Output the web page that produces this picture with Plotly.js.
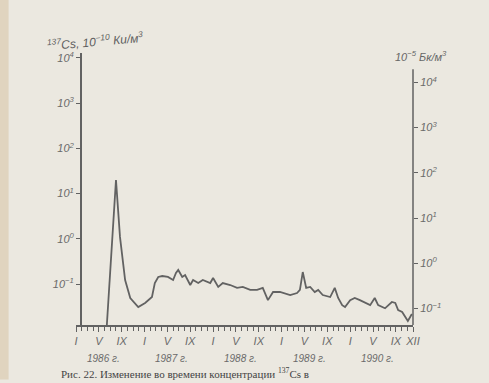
<!DOCTYPE html>
<html>
<head>
<meta charset="utf-8">
<script src="https://cdn.plot.ly/plotly-3.0.1.min.js"></script>
<style>
html,body{margin:0;padding:0;background:#ebe8e0;}
#chart{width:489px;height:383px;}
</style>
</head>
<body>
<div id="chart"></div>
<script>
// Month index from January 1986 (0) to December 1990 (59)
const months = [5.4, 7.0, 7.7, 8.6, 9.5, 10.9, 12.1, 13.3, 13.8, 14.4, 15.1, 16.1, 17.0, 17.5, 17.9, 18.6, 19.1, 20.0, 20.5, 21.4, 22.2, 23.5, 24.0, 24.9, 25.7, 27.0, 28.2, 29.2, 30.5, 31.7, 32.7, 33.6, 34.5, 35.7, 37.5, 38.7, 39.2, 39.7, 40.3, 41.0, 41.8, 42.4, 43.2, 44.5, 45.3, 45.9, 46.6, 47.1, 48.0, 48.8, 49.7, 50.6, 51.5, 52.3, 52.9, 54.1, 55.3, 55.9, 56.4, 57.1, 57.6, 58.1, 58.8];
// 137Cs concentration, 10^-10 Ci/m3
const cs137 = [0.0124, 20, 1.10, 0.1225, 0.049, 0.031, 0.038, 0.0515, 0.105, 0.143, 0.150, 0.143, 0.1225, 0.175, 0.204, 0.143, 0.158, 0.095, 0.1225, 0.105, 0.1225, 0.105, 0.136, 0.086, 0.105, 0.095, 0.082, 0.086, 0.074, 0.074, 0.082, 0.044, 0.0665, 0.0665, 0.057, 0.063, 0.074, 0.184, 0.082, 0.086, 0.0665, 0.074, 0.057, 0.0515, 0.082, 0.049, 0.034, 0.031, 0.044, 0.049, 0.044, 0.038, 0.034, 0.049, 0.034, 0.029, 0.040, 0.038, 0.0266, 0.024, 0.0186, 0.0152, 0.0217];

const monthTickVals = [0, 4, 8, 12, 16, 20, 24, 28, 32, 36, 40, 44, 48, 52, 56, 59];
const monthTickText = ['I','V','IX','I','V','IX','I','V','IX','I','V','IX','I','V','IX','XII'];
const yearLabels = ['1986 г.', '1987 г.', '1988 г.', '1989 г.', '1990 г.'];
const yearPos = [4.8, 16.8, 28.8, 40.8, 52.8];

const leftTickVals = [0.1, 1, 10, 100, 1000, 10000];
const leftTickText = ['10<sup>−1</sup>', '10<sup>0</sup>', '10<sup>1</sup>', '10<sup>2</sup>', '10<sup>3</sup>', '10<sup>4</sup>'];
const rightTickVals = [0.1, 1, 10, 100, 1000, 10000];
const rightTickText = ['10<sup>−1</sup>', '10<sup>0</sup>', '10<sup>1</sup>', '10<sup>2</sup>', '10<sup>3</sup>', '10<sup>4</sup>'];

const ink = '#626262';
const txt = '#6a6a6a';
const fam = 'Liberation Sans, Arial, sans-serif';
const tfont = {family: fam, size: 11, color: txt, style: 'italic'};

const traces = [
  {x: months, y: cs137, type: 'scatter', mode: 'lines',
   line: {color: ink, width: 1.8}, hoverinfo: 'skip', cliponaxis: true},
  // empty trace so the right-hand (Bq) axis is drawn
  {x: [], y: [], type: 'scatter', mode: 'lines', yaxis: 'y2', hoverinfo: 'skip', showlegend: false}
];

const annotations = yearLabels.map((t, i) => ({
  text: t, x: yearPos[i], xref: 'x', y: -0.095, yref: 'paper',
  yanchor: 'top', xanchor: 'center', showarrow: false,
  font: {family: fam, size: 10, color: txt, style: 'italic'}
}));
annotations.push({
  text: '<sup>137</sup>Cs, 10<sup>−10</sup> Ки/м<sup>3</sup>',
  xref: 'paper', yref: 'paper', x: -0.095, y: 0.99, xanchor: 'left', yanchor: 'bottom',
  showarrow: false, textangle: -5,
  font: {family: fam, size: 12, color: '#5e5e5e', style: 'italic'}
});
annotations.push({
  text: '10<sup>−5</sup> Бк/м<sup>3</sup>',
  xref: 'paper', yref: 'paper', x: 0.94, y: 0.955, xanchor: 'left', yanchor: 'bottom',
  showarrow: false,
  font: {family: fam, size: 11, color: '#666666', style: 'italic'}
});
annotations.push({
  text: 'Рис. 22. Изменение во времени концентрации <sup>137</sup>Cs в',
  xref: 'paper', yref: 'paper', x: -0.05, y: -0.208, xanchor: 'left', yanchor: 'bottom',
  showarrow: false,
  font: {family: 'Liberation Serif, serif', size: 11, color: '#444444'}
});

const layout = {
  width: 489, height: 383,
  margin: {l: 76, r: 76, t: 53, b: 58},
  paper_bgcolor: '#ebe8e0', plot_bgcolor: 'rgba(0,0,0,0)',
  showlegend: false,
  xaxis: {
    range: [0, 59], showgrid: false, zeroline: false,
    showline: true, linecolor: ink, linewidth: 1.5,
    ticks: 'outside', ticklen: 5, tickcolor: ink, tickwidth: 1,
    tickvals: monthTickVals, ticktext: monthTickText, tickfont: tfont,
    minor: {dtick: 1, tick0: 0, ticks: 'outside', ticklen: 4, tickcolor: ink, tickwidth: 1, showgrid: false}
  },
  yaxis: {
    type: 'log', range: [-1.907, 4.11], showgrid: false, zeroline: false,
    anchor: 'free', position: 0.012,
    showline: true, linecolor: ink, linewidth: 1.5,
    ticks: 'outside', ticklen: 4, tickcolor: ink,
    tickvals: leftTickVals, ticktext: leftTickText, tickfont: tfont
  },
  yaxis2: {
    type: 'log', range: [-1.367, 4.65], overlaying: 'y', side: 'right', anchor: 'x',
    showgrid: false, zeroline: false, showline: false,
    ticks: 'outside', ticklen: 4, tickcolor: ink,
    tickvals: rightTickVals, ticktext: rightTickText, tickfont: tfont
  },
  shapes: [
    {type: 'line', xref: 'paper', yref: 'paper', x0: 1, x1: 1, y0: 0, y1: 0.94,
     line: {color: ink, width: 1.5}},
    {type: 'rect', xref: 'paper', yref: 'paper', x0: -0.226, x1: -0.2, y0: -0.2, y1: 1.2,
     fillcolor: '#d8c6a8', opacity: 0.6, line: {width: 0}, layer: 'below'}
  ],
  annotations: annotations
};

Plotly.newPlot('chart', traces, layout, {displayModeBar: false, staticPlot: true});
</script>
</body>
</html>
